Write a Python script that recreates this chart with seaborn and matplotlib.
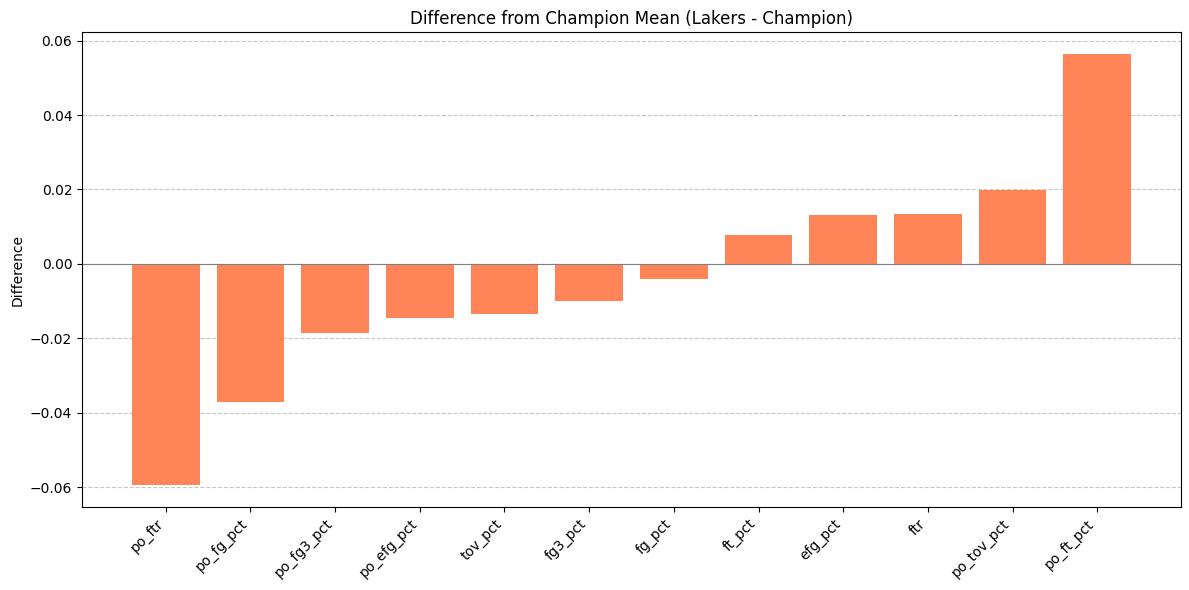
import matplotlib
matplotlib.use("Agg")
import matplotlib.pyplot as plt
import numpy as np
import pandas as pd
import seaborn as sns

stats = ["po_ftr", "po_fg_pct", "po_fg3_pct", "po_efg_pct", "tov_pct", "fg3_pct",
         "fg_pct", "ft_pct", "efg_pct", "ftr", "po_tov_pct", "po_ft_pct"]
diffs = [-0.0595, -0.0371, -0.0186, -0.0145, -0.0135, -0.0100,
         -0.0040, 0.0078, 0.0132, 0.0135, 0.0199, 0.0565]

df = pd.DataFrame({"stat": stats, "diff": diffs})

fig, ax = plt.subplots(figsize=(11.89, 5.9), dpi=100)
sns.barplot(data=df, x="stat", y="diff", color="coral", saturation=1,
            alpha=0.95, linewidth=0, width=0.8, ax=ax)

n = len(stats)
pad = 0.05 * (n - 1 + 0.8)
ax.set_xlim(-0.4 - pad, n - 1 + 0.4 + pad)

ax.axhline(0, color="grey", linewidth=0.8)
ax.grid(axis="y", linestyle="--", alpha=0.7)
ax.set_axisbelow(True)
ax.set_title("Difference from Champion Mean (Lakers - Champion)")
ax.set_ylabel("Difference")
ax.set_xlabel("")
plt.setp(ax.get_xticklabels(), rotation=45, ha="right")

fig.subplots_adjust(left=82/1189, right=1181/1189, top=1-32/590, bottom=1-507/590)
fig.savefig("out.png")
